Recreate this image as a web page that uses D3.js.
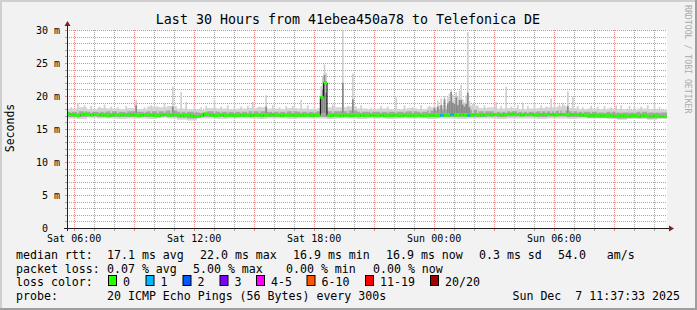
<!DOCTYPE html>
<html>
<head>
<meta charset="utf-8">
<script src="https://cdn.jsdelivr.net/npm/d3@7"></script>
<style>
    body { margin: 0; background: #f2f2f2; }
    svg text { font-family: "DejaVu Sans Mono", monospace; white-space: pre; fill: #000; }
    .axis path { display: none; }
    .axis line { display: none; }
</style>
</head>
<body>
<div id="chart"></div>
<script>
// time window of the graph (30 hours)
var startTime = new Date(2025, 11, 6, 5, 40);
var endTime = new Date(2025, 11, 7, 11, 40);

// median rtt in ms, one value per 10 minutes from Sat 05:40
var medianRtt = [
    17.3,17.2,17.1,17.0,17.2,17.3,17.2,17.1,17.2,17.2,17.1,17.1,17.0,17.1,17.2,17.1,17.1,17.2,
    17.1,17.2,17.1,17.0,17.1,17.2,17.1,17.1,17.0,17.0,17.1,17.2,17.1,17.1,17.2,17.1,17.0,17.1,
    17.1,17.0,16.9,16.9,17.0,17.3,17.2,17.1,17.0,17.1,17.1,17.0,17.1,17.1,17.0,17.1,17.1,17.1,
    17.1,17.0,17.1,17.1,17.0,17.1,17.1,17.2,17.1,17.1,17.0,17.1,17.1,17.1,17.0,17.1,17.1,17.1,
    17.1,17.0,17.1,17.1,19.8,22.0,17.0,17.0,17.1,17.0,17.0,17.1,17.0,17.0,17.1,17.0,17.1,17.0,
    17.0,17.1,17.0,17.0,17.1,17.0,17.0,17.0,17.1,17.0,17.0,17.1,17.0,17.0,17.0,17.1,17.0,17.0,
    17.0,17.1,17.0,17.0,17.1,17.1,17.1,17.2,17.1,17.1,17.2,17.1,17.1,17.1,17.2,17.1,17.1,17.2,
    17.2,17.1,17.2,17.2,17.1,17.2,17.2,17.3,17.2,17.2,17.1,17.2,17.2,17.2,17.1,17.2,17.2,17.2,
    17.2,17.2,17.1,17.2,17.2,17.2,17.1,17.2,17.2,17.2,17.1,17.1,17.0,17.0,17.1,17.0,17.0,17.0,
    17.0,17.0,16.9,17.0,17.0,17.0,16.9,17.0,17.0,16.9,17.0,17.0,16.9,16.9,17.0,16.9,16.9,16.9
];

// steps (index into medianRtt) with lost pings, and how many of 20
var lossSteps = [112, 115, 120];
var lossCounts = [1, 1, 1];

// smoke band, one value per 30 minutes from Sat 05:40
var smokeMax = [
    18.1,18.3,18.0,18.2,18.1,18.0, 18.2,18.0,18.4,18.3,18.5,18.1,
    18.0,17.9,18.2,18.1,18.0,18.1, 18.2,18.3,18.1,18.0,18.2,18.1,
    18.0,18.2,18.3,18.3,18.4,18.1, 18.0,18.1,18.0,18.0,18.2,18.0,
    18.3,18.6,18.9,18.8,18.6,18.2, 18.3,18.1,18.2,18.0,18.1,18.2,
    18.3,18.4,18.2,18.0,18.1,18.0, 18.1,18.0,17.9,18.1,18.0,17.9
];
var smokeMin = [
    16.6,16.5,16.7,16.6,16.6,16.5, 16.6,16.6,16.5,16.7,16.6,16.4,
    16.3,16.6,16.6,16.5,16.6,16.6, 16.6,16.5,16.6,16.6,16.5,16.6,
    16.6,16.6,16.5,16.6,16.6,16.5, 16.6,16.6,16.5,16.6,16.6,16.6,
    16.5,16.6,16.6,16.5,16.6,16.6, 16.6,16.5,16.6,16.6,16.6,16.5,
    16.6,16.6,16.5,16.6,16.6,16.6, 16.5,16.4,16.5,16.5,16.4,16.5
];
var smokeInnerHi = [
    17.6,17.7,17.6,17.6,17.7,17.6, 17.7,17.6,17.7,17.7,17.8,17.6,
    17.6,17.5,17.7,17.6,17.6,17.6, 17.7,17.7,17.6,17.6,17.7,17.6,
    17.6,17.7,17.7,17.7,17.8,17.6, 17.6,17.6,17.6,17.6,17.7,17.6,
    17.8,18.0,18.3,18.2,17.9,17.7, 17.7,17.6,17.7,17.6,17.6,17.7,
    17.7,17.8,17.7,17.6,17.6,17.5, 17.6,17.5,17.5,17.6,17.5,17.5
];
var smokeInnerLo = [
    16.8,16.8,16.9,16.8,16.8,16.8, 16.8,16.8,16.8,16.9,16.8,16.7,
    16.6,16.8,16.8,16.8,16.8,16.8, 16.8,16.8,16.8,16.8,16.8,16.8,
    16.8,16.8,16.8,16.8,16.8,16.8, 16.8,16.8,16.8,16.8,16.8,16.8,
    16.8,16.8,16.8,16.8,16.8,16.8, 16.9,16.8,16.9,16.9,16.9,16.8,
    16.9,16.9,16.8,16.8,16.7,16.7, 16.7,16.6,16.7,16.7,16.6,16.7
];

// single-ping outliers: [minutes after start, highest ping, top of darker part (0 = none)]
var spikes = [
    [10, 18.3, 0], [30, 18.9, 0], [50, 18.6, 0], [70, 18.5, 0], [95, 18.4, 0], [110, 18.7, 0],
    [130, 18.4, 0], [150, 18.3, 0], [175, 18.5, 0], [205, 19.4, 18.6], [230, 18.3, 0], [250, 18.6, 0],
    [270, 18.4, 0], [290, 18.9, 0], [310, 18.5, 0], [315, 21.4, 18.4], [340, 20.6, 0], [355, 19.1, 0],
    [380, 18.6, 0], [400, 18.3, 0], [415, 18.5, 0], [440, 19.4, 0], [460, 18.4, 0], [480, 18.6, 0],
    [500, 18.3, 0], [520, 18.4, 0], [540, 18.5, 0], [555, 19.1, 0], [575, 18.4, 0], [595, 20.1, 18.4],
    [615, 18.6, 0], [635, 18.3, 0], [655, 18.5, 0], [675, 18.5, 0], [700, 19.4, 0], [720, 18.6, 0],
    [740, 18.4, 0], [760, 21.5, 20.0], [765, 23.0, 21.0], [770, 24.8, 23.2], [775, 23.5, 20.5],
    [795, 18.7, 0], [825, 30.0, 22.0], [840, 18.5, 0], [855, 23.4, 19.5], [880, 18.6, 0],
    [910, 18.2, 0], [940, 18.5, 0], [960, 18.4, 0], [985, 19.8, 0], [1010, 18.6, 0], [1035, 18.3, 0],
    [1060, 18.6, 0], [1085, 18.5, 0], [1100, 18.9, 18.2], [1110, 19.3, 18.4], [1120, 19.6, 18.6],
    [1130, 20.0, 19.5], [1140, 19.8, 18.9], [1145, 20.4, 19.2], [1150, 21.0, 20.6], [1155, 20.2, 19.0],
    [1160, 19.4, 18.8], [1165, 20.6, 19.8], [1170, 19.9, 18.6], [1175, 20.8, 19.4], [1180, 21.7, 19.4],
    [1185, 19.5, 18.7], [1190, 19.0, 18.4], [1195, 20.1, 18.8], [1200, 29.7, 20.5], [1205, 19.2, 18.3],
    [1215, 18.8, 0], [1230, 18.5, 0], [1250, 18.6, 0], [1280, 18.6, 0], [1285, 19.1, 0], [1300, 18.5, 0],
    [1315, 21.4, 0], [1330, 18.4, 0], [1350, 18.6, 0], [1365, 19.0, 0], [1380, 18.5, 0], [1400, 19.1, 0],
    [1420, 18.6, 0], [1435, 18.4, 0], [1450, 19.6, 0], [1460, 18.9, 0], [1475, 18.7, 0], [1485, 18.9, 0],
    [1490, 18.6, 0], [1500, 20.7, 18.5], [1515, 19.9, 0], [1530, 18.5, 0], [1545, 18.3, 0], [1570, 18.5, 0],
    [1590, 18.4, 0], [1610, 18.5, 0], [1630, 18.3, 0], [1645, 18.6, 0], [1660, 18.6, 0], [1685, 18.5, 0],
    [1700, 18.4, 0], [1720, 18.4, 0], [1740, 18.6, 0], [1760, 18.9, 0], [1775, 18.3, 0]
];

// y axis
var yTicks = [0, 5, 10, 15, 20, 25, 30];
var yTickLabels = ["0  ", "5 m", "10 m", "15 m", "20 m", "25 m", "30 m"];

// legend
var rttStats = ["median rtt:", "17.1 ms avg", "22.0 ms max", "16.9 ms min", "16.9 ms now", "0.3 ms sd", "54.0   am/s"];
var lossStats = ["packet loss:", "0.07 % avg", "5.00 % max", "0.00 % min", "0.00 % now"];
var lossLabels = ["0", "1", "2", "3", "4-5", "6-10", "11-19", "20/20"];
var lossColors = ["#26ff00", "#00b8ff", "#0059ff", "#7e00ff", "#ff00ff", "#ff5500", "#ff0000", "#a10000"];
var probeText = "20 ICMP Echo Pings (56 Bytes) every 300s";
var stampText = "Sun Dec  7 11:37:33 2025";

var width = 697, height = 310;
var plotL = 67, plotR = 667, plotT = 30, plotB = 228;
var minorCol = "#a8a8a8", majorCol = "#e48a8a";

var svg = d3.select("#chart").append("svg")
    .attr("width", width)
    .attr("height", height);

// background + 3d frame
svg.append("rect").attr("width", width).attr("height", height).attr("fill", "#f2f2f2");
svg.append("path").attr("d", "M0,0H697V2H2V310H0Z").attr("fill", "#cfcfcf");
svg.append("path").attr("d", "M697,0V310H0V308H695V0Z").attr("fill", "#9e9e9e");

var x = d3.scaleTime().domain([startTime, endTime]).range([plotL, plotR]);
var y = d3.scaleLinear().domain([0, 30]).range([plotB, plotT]);

// canvas
svg.append("rect")
    .attr("x", plotL).attr("y", plotT)
    .attr("width", plotR - plotL).attr("height", plotB - plotT)
    .attr("fill", "#fff");

// grid as 1px dotted rects (minor first, major on top)
var grid = svg.append("g").attr("shape-rendering", "crispEdges");
function dotsH(yy, col) {
    d3.range(plotL, plotR, 2).forEach(function(px) {
        grid.append("rect").attr("x", px).attr("y", yy).attr("width", 1).attr("height", 1).attr("fill", col);
    });
}
function dotsV(xx, col) {
    d3.range(plotT, plotB, 2).forEach(function(py) {
        grid.append("rect").attr("x", xx).attr("y", py).attr("width", 1).attr("height", 1).attr("fill", col);
    });
}
var yGrid = d3.range(1, 31);
yGrid.sort(function(a, b) { return (a % 5 === 0) - (b % 5 === 0); });
yGrid.forEach(function(v) {
    var major = v % 5 === 0;
    var yy = Math.round(y(v));
    dotsH(yy, major ? majorCol : minorCol);
    grid.append("rect").attr("x", plotL - 2).attr("y", yy).attr("width", 2).attr("height", 1)
        .attr("fill", major ? majorCol : minorCol);
});
var xGrid = d3.timeHour.range(startTime, endTime);
xGrid.sort(function(a, b) { return (a.getHours() % 3 === 0) - (b.getHours() % 3 === 0); });
xGrid.forEach(function(t) {
    var major = t.getHours() % 3 === 0;
    var xx = Math.round(x(t));
    dotsV(xx, major ? majorCol : minorCol);
    grid.append("rect").attr("x", xx).attr("y", plotB + 1).attr("width", 1).attr("height", 2)
        .attr("fill", major ? majorCol : minorCol);
});

// smoke
function stepTime(i, minutes) {
    return new Date(startTime.getTime() + i * minutes * 60000);
}
function bandData(lo, hi) {
    var d = lo.map(function(v, i) { return { t: stepTime(i, 30), lo: v, hi: hi[i] }; });
    d.push({ t: endTime, lo: lo[lo.length - 1], hi: hi[hi.length - 1] });
    return d;
}
var band = d3.area()
    .curve(d3.curveStepAfter)
    .x(function(d) { return x(d.t); })
    .y0(function(d) { return y(d.lo); })
    .y1(function(d) { return y(d.hi); });

svg.append("path").datum(bandData(smokeMin, smokeMax)).attr("d", band).attr("fill", "#d6d6d6");
svg.append("path").datum(bandData(smokeInnerLo, smokeInnerHi)).attr("fill", "#a6a6a6").attr("d", band);

var spikeW = x(stepTime(5, 1)) - x(startTime);
svg.append("g").selectAll("rect").data(spikes).enter().append("rect")
    .attr("x", function(d) { return x(stepTime(d[0], 1)); })
    .attr("width", spikeW)
    .attr("y", function(d) { return y(d[1]); })
    .attr("height", function(d) { return y(17.4) - y(d[1]); })
    .attr("fill", "#d0d0d0");
svg.append("g").selectAll("rect").data(spikes.filter(function(d) { return d[2] > 0; })).enter().append("rect")
    .attr("x", function(d) { return x(stepTime(d[0], 1)); })
    .attr("width", spikeW)
    .attr("y", function(d) { return y(d[2]); })
    .attr("height", function(d) { return y(17.4) - y(d[2]); })
    .attr("fill", "#8a8a8a");

// median: thin black step line, then loss coloured segments on top
var medData = medianRtt.map(function(v, i) { return { t: stepTime(i, 10), v: v }; });
medData.push({ t: endTime, v: medianRtt[medianRtt.length - 1] });

svg.append("path")
    .datum(medData)
    .attr("fill", "none")
    .attr("stroke", "#000")
    .attr("stroke-width", 1)
    .attr("d", d3.line().curve(d3.curveStepAfter)
        .x(function(d) { return x(d.t); })
        .y(function(d) { return y(d.v); }));

svg.append("g").selectAll("rect").data(medianRtt).enter().append("rect")
    .attr("x", function(d, i) { return x(stepTime(i, 10)); })
    .attr("width", function(d, i) { return x(stepTime(i + 1, 10)) - x(stepTime(i, 10)); })
    .attr("y", function(d) { return y(d) - 1.5; })
    .attr("height", 3)
    .attr("fill", function(d, i) {
        var k = lossSteps.indexOf(i);
        return k < 0 ? lossColors[0] : lossColors[lossCounts[k]];
    });

// axes lines and arrows
svg.append("line").attr("x1", plotL - 3).attr("x2", plotR + 2)
    .attr("y1", plotB + 0.5).attr("y2", plotB + 0.5).attr("stroke", "#1f1f1f");
svg.append("line").attr("x1", plotL + 0.5).attr("x2", plotL + 0.5)
    .attr("y1", plotB + 3).attr("y2", plotT - 4).attr("stroke", "#1f1f1f");
svg.append("path").attr("d", "M" + (plotR + 7) + "," + (plotB + 0.5) + "l-5,-3v6z").attr("fill", "#801f1f");
svg.append("path").attr("d", "M" + (plotL + 0.5) + "," + (plotT - 9) + "l-3,5h6z").attr("fill", "#801f1f");

// tick labels
svg.append("g")
    .attr("class", "axis")
    .attr("transform", "translate(0," + plotB + ")")
    .call(d3.axisBottom(x)
        .ticks(d3.timeHour.every(6))
        .tickFormat(d3.timeFormat("%a %H:%M"))
        .tickSize(0).tickPadding(6.5))
    .selectAll("text").style("font-size", "10px");

svg.append("g")
    .attr("class", "axis")
    .attr("transform", "translate(" + plotL + ",0)")
    .call(d3.axisLeft(y)
        .tickValues(yTicks)
        .tickFormat(function(d, i) { return yTickLabels[i]; })
        .tickSize(0).tickPadding(7))
    .selectAll("text").style("font-size", "10px");

svg.selectAll(".axis").attr("font-family", null).attr("font-size", null);

// titles
svg.append("text")
    .attr("x", 348).attr("y", 23.5)
    .attr("text-anchor", "middle")
    .style("font-size", "13.3px")
    .text("Last 30 Hours from 41ebea450a78 to Telefonica DE");

svg.append("text")
    .attr("transform", "translate(13.5,128) rotate(-90)")
    .attr("text-anchor", "middle")
    .style("font-size", "11.5px")
    .text("Seconds");

svg.append("text")
    .attr("transform", "translate(685,5) rotate(90)")
    .style("font-size", "8.2px")
    .style("fill", "#ababab")
    .text("RRDTOOL / TOBI OETIKER");

// legend
var legend = svg.append("g").style("font-size", "11.6px");
var rttX = [16, 107, 200, 293, 386, 479, 558];
rttStats.forEach(function(s, i) {
    legend.append("text").attr("x", rttX[i]).attr("y", 259).text(s);
});
var lossX = [16, 107, 193, 286, 373];
lossStats.forEach(function(s, i) {
    legend.append("text").attr("x", lossX[i]).attr("y", 272.5).text(s);
});
legend.append("text").attr("x", 16).attr("y", 286).text("loss color:");
var boxX = [108, 145.5, 182.5, 219.5, 256, 306.5, 365, 430];
lossLabels.forEach(function(s, i) {
    legend.append("rect")
        .attr("x", boxX[i] + 0.5).attr("y", 275.5)
        .attr("width", 8).attr("height", 10)
        .attr("fill", lossColors[i])
        .attr("stroke", "#000");
    legend.append("text").attr("x", boxX[i] + 15).attr("y", 286).text(s);
});
legend.append("text").attr("x", 16).attr("y", 300).text("probe:");
legend.append("text").attr("x", 107).attr("y", 300).text(probeText);
legend.append("text").attr("x", 680).attr("y", 300).attr("text-anchor", "end").text(stampText);
</script>
</body>
</html>
